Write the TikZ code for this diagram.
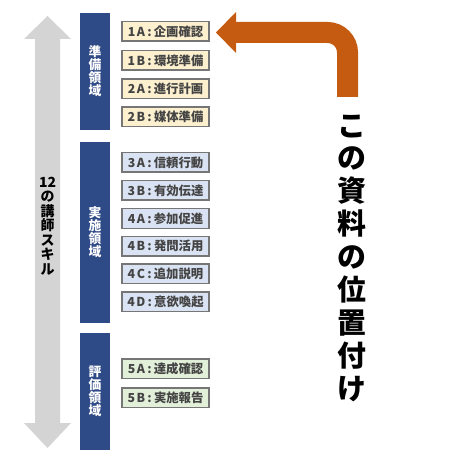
\documentclass[tikz,border=0pt]{standalone}
\usepackage{fontspec}
\setmainfont{Noto Sans CJK JP}
\usetikzlibrary{calc}
\definecolor{barblue}{RGB}{46,74,135}
\definecolor{arrgray}{RGB}{212,212,212}
\definecolor{arrorange}{RGB}{197,90,17}
\definecolor{fyellow}{RGB}{253,240,207}
\definecolor{fblue}{RGB}{218,227,243}
\definecolor{fgreen}{RGB}{226,240,217}
\definecolor{bordgray}{RGB}{118,118,118}
\definecolor{txtgray}{RGB}{68,68,68}
\newcommand{\sklab}[3]{#1\hspace{1.6bp}#2\hspace{2.2bp}:\hspace{2.2bp}#3}
\tikzset{
  bar/.style={fill=barblue, draw=none, minimum width=30bp, inner sep=0pt, text=white, align=center,
    font=\fontsize{12.8}{13}\selectfont\bfseries},
  skill/.style={draw=bordgray, line width=1.5bp, minimum width=87bp, minimum height=19.5bp, inner sep=0pt,
    text=txtgray, font=\fontsize{12.4}{13}\selectfont\bfseries},
  sy/.style={skill, fill=fyellow},
  sb/.style={skill, fill=fblue},
  sg/.style={skill, fill=fgreen}
}
\begin{document}
\begin{tikzpicture}[x=1bp,y=-1bp]
\useasboundingbox (0,0) rectangle (460,460);
\fill[white] (0,0) rectangle (460,460);
% gray double arrow
\fill[arrgray] (47.5,16) -- (71,39) -- (60,39) -- (60,423) -- (71,423) -- (47.5,448)
  -- (24,423) -- (35,423) -- (35,39) -- (24,39) -- cycle;
\node[align=center, font=\fontsize{14}{14.6}\selectfont\bfseries] (skl) at (47.5,226)
  {12\\の\\講\\師\\ス\\キ\\ル};
% bars
\node[bar, minimum height=117bp] (d1) at (95,71.5) {準\\備\\領\\域};
\node[bar, minimum height=181bp] (d2) at (95,232.5) {実\\施\\領\\域};
\node[bar, minimum height=117bp] (d3) at (95,391.5) {評\\価\\領\\域};
% skill boxes
\node[sy] (b1a) at (165.5,31.5) {\sklab{1}{A}{企画確認}};
\node[sy] (b1b) at (165.5,60.5) {\sklab{1}{B}{環境準備}};
\node[sy] (b2a) at (165.5,89) {\sklab{2}{A}{進行計画}};
\node[sy] (b2b) at (165.5,117) {\sklab{2}{B}{媒体準備}};
\node[sb] (b3a) at (165.5,162.5) {\sklab{3}{A}{信頼行動}};
\node[sb] (b3b) at (165.5,190.5) {\sklab{3}{B}{有効伝達}};
\node[sb] (b4a) at (165.5,218.5) {\sklab{4}{A}{参加促進}};
\node[sb] (b4b) at (165.5,246) {\sklab{4}{B}{発問活用}};
\node[sb] (b4c) at (165.5,273.5) {\sklab{4}{C}{追加説明}};
\node[sb] (b4d) at (165.5,301.5) {\sklab{4}{D}{意欲喚起}};
\node[sg] (b5a) at (165.5,368.5) {\sklab{5}{A}{達成確認}};
\node[sg] (b5b) at (165.5,397.5) {\sklab{5}{B}{実施報告}};
% title
\node[align=center, inner sep=0pt, font=\fontsize{29}{33}\selectfont\bfseries] (ttl) at (352,258)
  {こ\\の\\資\\料\\の\\位\\置\\付\\け};
% orange arrow
\coordinate (ostart) at (347.5,97);
\coordinate (ocorner) at (347.5,32.5);
\coordinate (obase) at (235,32.5);
\coordinate (otip) at (216,32.5);
\draw[arrorange, line width=21bp, rounded corners=20bp] (ostart) -- (ocorner) -- (obase);
\fill[arrorange] ($(obase)+(1,-20.5)$) -- (otip) -- ($(obase)+(1,20.5)$) -- cycle;
\end{tikzpicture}
\end{document}
